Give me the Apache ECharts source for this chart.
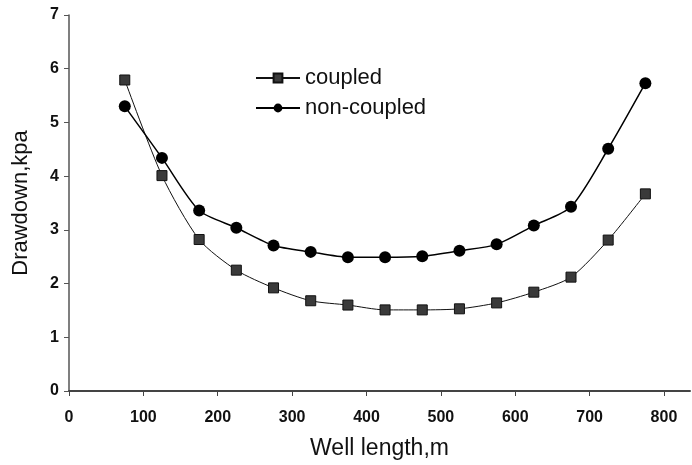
<!DOCTYPE html>
<html>
<head>
<meta charset="utf-8">
<script src="https://cdn.jsdelivr.net/npm/echarts@6/dist/echarts.min.js"></script>
<style>html,body{margin:0;padding:0;background:#fff}#c{width:692px;height:465px}</style>
</head>
<body>
<div id="c"></div>
<script>
const wellLength = [75,125,175,225,275,325,375,425,475,525,575,625,675,725,775];
const coupled = [5.79,4.01,2.82,2.25,1.92,1.68,1.60,1.51,1.51,1.53,1.64,1.84,2.12,2.81,3.67];
const nonCoupled = [5.30,4.34,3.36,3.04,2.71,2.59,2.49,2.49,2.51,2.61,2.73,3.08,3.43,4.51,5.73];
const xTicks = [0,100,200,300,400,500,600,700,800];

const chart = echarts.init(document.getElementById('c'));
const font = 'Liberation Sans, Arial, sans-serif';
chart.setOption({
  animation: false,
  backgroundColor: '#fff',
  grid: {left: 69, right: 2, top: 15, bottom: 74},
  legend: {
    orient: 'vertical', left: 250, top: 62, itemGap: 8, itemWidth: 44, itemHeight: 11,
    textStyle: {fontFamily: font, fontSize: 22, color: '#111'},
    data: ['coupled', 'non-coupled']
  },
  xAxis: {
    type: 'value', min: 0, max: 835,
    name: 'Well length,m', nameLocation: 'middle', nameGap: 46,
    nameTextStyle: {fontFamily: font, fontSize: 23, color: '#111'},
    axisLine: {lineStyle: {color: '#444', width: 2}},
    axisTick: {show: true, length: 5, lineStyle: {color: '#444'}, customValues: xTicks},
    axisLabel: {customValues: xTicks, margin: 19, fontFamily: font, fontSize: 16, fontWeight: 'bold', color: '#111'},
    splitLine: {show: false}
  },
  yAxis: {
    type: 'value', min: 0, max: 7, interval: 1,
    name: 'Drawdown,kpa', nameLocation: 'middle', nameGap: 37,
    nameTextStyle: {fontFamily: font, fontSize: 22, color: '#111'},
    axisLine: {show: true, lineStyle: {color: '#555', width: 1.5}},
    axisTick: {show: true, length: 5, lineStyle: {color: '#555'}},
    axisLabel: {margin: 10, fontFamily: font, fontSize: 16, fontWeight: 'bold', color: '#111'},
    splitLine: {show: false}
  },
  series: [
    {
      name: 'coupled', type: 'line', smooth: 0.25,
      data: wellLength.map((x, i) => [x, coupled[i]]),
      symbol: 'rect', symbolSize: 10,
      lineStyle: {color: '#111', width: 1},
      itemStyle: {color: '#3a3a3a', borderColor: '#111', borderWidth: 1}
    },
    {
      name: 'non-coupled', type: 'line', smooth: 0.25,
      data: wellLength.map((x, i) => [x, nonCoupled[i]]),
      symbol: 'circle', symbolSize: 12,
      lineStyle: {color: '#000', width: 1.5},
      itemStyle: {color: '#000', borderColor: '#000', borderWidth: 0}
    }
  ]
});
</script>
</body>
</html>
